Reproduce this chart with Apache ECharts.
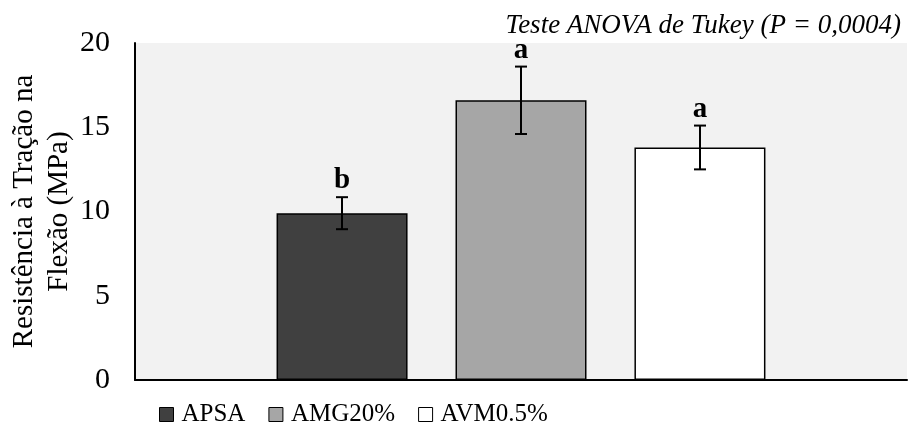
<!DOCTYPE html>
<html><head><meta charset="utf-8">
<script src="https://cdn.jsdelivr.net/npm/echarts@6/dist/echarts.min.js"></script>
<style>html,body{margin:0;padding:0;background:#fff}#c{width:908px;height:425px}</style>
</head><body><div id="c"></div>
<script>
// ---- data ----
const groups = ['APSA', 'AMG20%', 'AVM0.5%'];
const means = [9.9, 16.6, 13.8];
const errors = [0.95, 2.0, 1.3];
const letters = ['b', 'a', 'a'];
const yTicks = [0, 5, 10, 15, 20];
const titleText = 'Teste ANOVA de Tukey (P = 0,0004)';
const yName = 'Resistência à Tração na\nFlexão (MPa)';

// ---- styles ----
const colors = ['#404040', '#a6a6a6', '#ffffff'];
const FONT = '"Liberation Serif", "Times New Roman", serif';
const BAR_W = 131;
const BAR_GAP = 48;

const chart = echarts.init(document.getElementById('c'), null, {renderer: 'canvas'});

const barSeries = groups.map((g, i) => ({
  name: g,
  type: 'bar',
  data: [means[i]],
  barWidth: BAR_W,
  barGap: (BAR_GAP / BAR_W * 100).toFixed(1) + '%',
  itemStyle: {color: colors[i], borderColor: '#000', borderWidth: 1.5},
  z: 2
}));

const errSeries = {
  type: 'custom',
  name: 'err',
  z: 5,
  data: groups.map((g, i) => [0, means[i], errors[i], i]),
  renderItem: function (params, api) {
    const gi = api.value(3);
    const top = api.coord([api.value(0), api.value(1) + api.value(2)]);
    const bot = api.coord([api.value(0), api.value(1) - api.value(2)]);
    const x = top[0] + (gi - 1) * (BAR_W + BAR_GAP);
    const cap = 6;
    const ls = {stroke: '#000', lineWidth: 2};
    return {
      type: 'group',
      children: [
        {type: 'line', shape: {x1: x, y1: top[1], x2: x, y2: bot[1]}, style: ls},
        {type: 'line', shape: {x1: x - cap, y1: top[1], x2: x + cap, y2: top[1]}, style: ls},
        {type: 'line', shape: {x1: x - cap, y1: bot[1], x2: x + cap, y2: bot[1]}, style: ls},
        {type: 'text', x: x, y: top[1] - 2, style: {
          text: letters[gi], fontSize: 29, fontWeight: 'bold', fontFamily: FONT,
          fill: '#000', align: 'center', verticalAlign: 'bottom'}}
      ]
    };
  }
};

chart.setOption({
  animation: false,
  backgroundColor: '#ffffff',
  title: {
    text: titleText, right: 2, top: 7,
    textStyle: {fontStyle: 'italic', fontWeight: 'normal', fontSize: 27, fontFamily: FONT, color: '#000'}
  },
  grid: {left: 135, right: 1, top: 43, bottom: 45, containLabel: false, outerBoundsMode: 'none',
    show: true, backgroundColor: '#f2f2f2', borderWidth: 0},
  legend: {
    data: groups, left: 159, top: 402, padding: 0,
    icon: 'rect', itemWidth: 14, itemHeight: 14, itemGap: 23,
    itemStyle: {borderColor: '#000', borderWidth: 1},
    textStyle: {fontSize: 25, fontFamily: FONT, color: '#000', padding: [0, 0, 0, 3]}
  },
  xAxis: {
    type: 'category', data: [''],
    axisLine: {lineStyle: {color: '#000', width: 2}},
    axisTick: {show: false}, axisLabel: {show: false}
  },
  yAxis: {
    type: 'value', min: yTicks[0], max: yTicks[yTicks.length - 1], interval: yTicks[1] - yTicks[0],
    axisLine: {show: true, lineStyle: {color: '#000', width: 2}},
    axisTick: {show: false}, splitLine: {show: false},
    axisLabel: {fontSize: 30, fontFamily: FONT, color: '#000', margin: 25},
    name: yName, nameLocation: 'middle', nameGap: 58, nameMoveOverlap: false,
    nameTextStyle: {fontSize: 29, fontFamily: FONT, color: '#000', lineHeight: 35}
  },
  series: barSeries.concat([errSeries])
});
</script>
</body></html>
